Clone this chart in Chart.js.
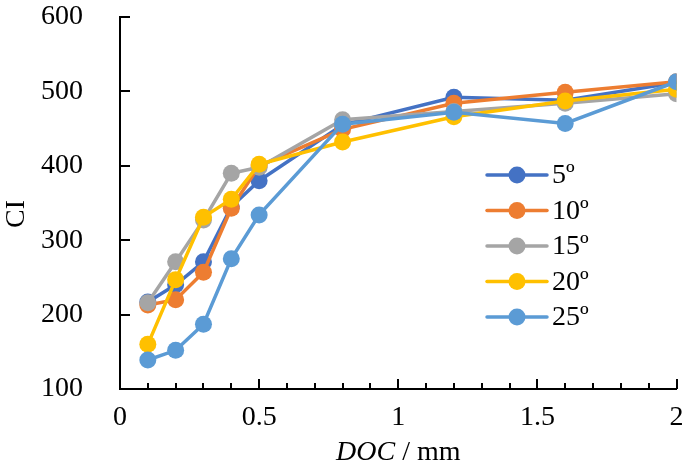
<!DOCTYPE html>
<html>
<head>
<meta charset="utf-8">
<script src="https://cdn.jsdelivr.net/npm/chart.js@4.4.0/dist/chart.umd.min.js"></script>
<style>
  html, body { margin: 0; padding: 0; background: #fff; }
  #wrap { width: 685px; height: 472px; position: relative; }
</style>
</head>
<body>
<div id="wrap"><canvas id="grafico"></canvas></div>
<script>
// DOC (mm) on x, CI on y
const doc = [0.1, 0.2, 0.3, 0.4, 0.5, 0.8, 1.2, 1.6, 2];
const ci5 = [217, 240, 271, 345, 380, 455, 492, 488, 512];
const ci10 = [213, 220, 257, 343, 400, 449, 484, 499, 513];
const ci15 = [216, 271, 327, 390, 398, 462, 473, 484, 497];
const ci20 = [160, 247, 331, 355, 402, 432, 466, 487, 503];
const ci25 = [139, 152, 187, 275, 334, 456, 472, 457, 513];
const nomes = ['5º', '10º', '15º', '20º', '25º'];
const cores = ['#4472C4', '#ED7D31', '#A5A5A5', '#FFC000', '#5B9BD5'];
const xTicks = [0, 0.5, 1, 1.5, 2];
const yTicks = [100, 200, 300, 400, 500, 600];

const fonte = 'Liberation Serif, Times New Roman, serif';
const series = [ci5, ci10, ci15, ci20, ci25];

function pontos(arr) {
  return doc.map((x, i) => ({ x: x, y: arr[i] }));
}

const extras = {
  id: 'extras',
  afterDraw(chart) {
    const ctx = chart.ctx;
    const xs = chart.scales.x, ys = chart.scales.y;
    const area = chart.chartArea;
    ctx.save();
    ctx.strokeStyle = '#000';
    ctx.lineWidth = 2;
    // ticks para dentro
    for (let k = 0; k <= 20; k++) {
      const px = Math.round(xs.getPixelForValue(k / 10));
      const len = (k % 5 === 0) ? 10 : 6;
      ctx.beginPath();
      ctx.moveTo(px, area.bottom);
      ctx.lineTo(px, area.bottom - len);
      ctx.stroke();
    }
    yTicks.forEach(v => {
      const py = Math.round(ys.getPixelForValue(v));
      ctx.beginPath();
      ctx.moveTo(area.left, py);
      ctx.lineTo(area.left + 10, py);
      ctx.stroke();
    });

    // titulo eixo x: DOC em italico
    ctx.fillStyle = '#000';
    ctx.textBaseline = 'middle';
    const p1 = 'DOC', p2 = ' / mm';
    ctx.font = 'italic 28px ' + fonte;
    const w1 = ctx.measureText(p1).width;
    ctx.font = '28px ' + fonte;
    const w2 = ctx.measureText(p2).width;
    const cx = (area.left + area.right) / 2;
    const sx = cx - (w1 + w2) / 2;
    ctx.textAlign = 'left';
    ctx.font = 'italic 28px ' + fonte;
    ctx.fillText(p1, sx, 453);
    ctx.font = '28px ' + fonte;
    ctx.fillText(p2, sx + w1, 453);

    // titulo eixo y
    ctx.save();
    ctx.translate(17, 214);
    ctx.rotate(-Math.PI / 2);
    ctx.textAlign = 'center';
    ctx.fillText('CI', 0, 0);
    ctx.restore();

    // legenda
    ctx.font = '28px ' + fonte;
    ctx.textAlign = 'left';
    nomes.forEach((n, i) => {
      const y = 175 + i * 35.5;
      ctx.strokeStyle = cores[i];
      ctx.lineWidth = 3.5;
      ctx.lineCap = 'round';
      ctx.beginPath();
      ctx.moveTo(487, y);
      ctx.lineTo(547, y);
      ctx.stroke();
      ctx.fillStyle = cores[i];
      ctx.beginPath();
      ctx.arc(517, y, 8.5, 0, Math.PI * 2);
      ctx.fill();
      ctx.fillStyle = '#000';
      ctx.fillText(n, 552, y + 1);
    });
    ctx.restore();
  }
};

new Chart(document.getElementById('grafico'), {
  type: 'line',
  data: {
    datasets: series.map((s, i) => ({
      label: nomes[i],
      data: pontos(s),
      borderColor: cores[i],
      backgroundColor: cores[i],
      borderWidth: 3.5,
      pointRadius: 8.5,
      pointHoverRadius: 8.5,
      pointBorderWidth: 0,
      tension: 0,
      order: 5 - i
    }))
  },
  options: {
    responsive: true,
    maintainAspectRatio: false,
    animation: false,
    layout: { padding: { top: 17, right: 8, left: 0, bottom: 0 } },
    plugins: { legend: { display: false }, tooltip: { enabled: false } },
    scales: {
      x: {
        type: 'linear',
        min: 0, max: 2,
        afterBuildTicks: s => { s.ticks = xTicks.map(v => ({ value: v })); },
        afterFit: s => { s.height = 83; s.paddingLeft = 0; s.paddingRight = 0; },
        grid: { display: false, drawTicks: false },
        border: { display: true, color: '#000', width: 2 },
        ticks: { color: '#000', padding: 12, font: { family: fonte, size: 28 }, maxRotation: 0,
          callback: v => String(v) }
      },
      y: {
        min: 100, max: 600,
        afterBuildTicks: s => { s.ticks = yTicks.map(v => ({ value: v })); },
        afterFit: s => { s.width = 120; s.paddingTop = 0; s.paddingBottom = 0; },
        grid: { display: false, drawTicks: false },
        border: { display: true, color: '#000', width: 2 },
        ticks: { color: '#000', padding: 37, font: { family: fonte, size: 28 } }
      }
    }
  },
  plugins: [extras]
});
</script>
</body>
</html>
